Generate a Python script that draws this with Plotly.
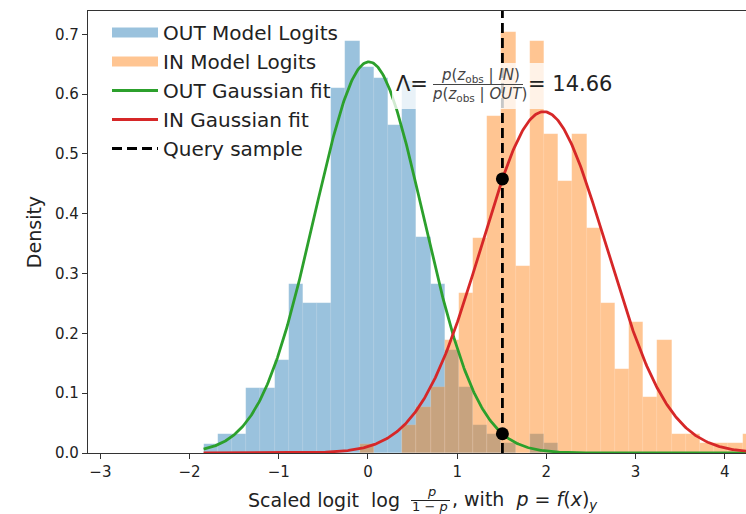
import numpy as np
import plotly.graph_objects as go

# ---------------- data ----------------
bin_left_edge = -1.843
bin_width = 0.159
out_density = [0.015, 0.031, 0.031, 0.109, 0.109, 0.156, 0.282, 0.251, 0.251, 0.611,
               0.689, 0.645, 0.627, 0.548, 0.622, 0.361, 0.282, 0.172, 0.110, 0.046,
               0.031, 0.016, 0.000, 0.031, 0.016, 0.000, 0.000, 0.000, 0.000, 0.000,
               0.000, 0.000, 0.000, 0.000, 0.000, 0.000, 0.000, 0.000, 0.000]
in_density = [0.000, 0.000, 0.000, 0.000, 0.000, 0.000, 0.000, 0.000, 0.000, 0.000,
              0.000, 0.015, 0.000, 0.000, 0.046, 0.077, 0.110, 0.189, 0.267, 0.360,
              0.563, 0.704, 0.312, 0.689, 0.533, 0.455, 0.533, 0.376, 0.251, 0.141,
              0.219, 0.094, 0.189, 0.031, 0.031, 0.016, 0.016, 0.016, 0.031]
out_fit_mean, out_fit_std = 0.01, 0.610
in_fit_mean, in_fit_std = 1.97, 0.699
query_x = 1.507
likelihood_ratio = 14.66
x_ticks = [-3, -2, -1, 0, 1, 2, 3, 4]
y_ticks = [0.0, 0.1, 0.2, 0.3, 0.4, 0.5, 0.6, 0.7]
x_range = [-3.139, 4.238]
y_range = [0.0, 0.739]

# ---------------- styling ----------------
FONT = "DejaVu Sans"
TXT = "#222222"
BLUE_FILL = "rgba(31,119,180,0.45)"
ORANGE_FILL = "rgba(255,127,14,0.45)"
GREEN = "#2ca02c"
RED = "#d62728"

W, H = 746, 514
ML, MR, MT, MB = 88, 0, 11, 61
PW, PH = W - ML - MR, H - MT - MB


def px_x(px):
    return (px - ML) / PW


def px_y(py):
    return (H - MB - py) / PH


def gauss(x, m, s):
    return np.exp(-0.5 * ((x - m) / s) ** 2) / (s * np.sqrt(2 * np.pi))


n_bins = len(out_density)
centers = [bin_left_edge + (i + 0.5) * bin_width for i in range(n_bins)]
x_fit = np.linspace(bin_left_edge, bin_left_edge + n_bins * bin_width, 600)

fig = go.Figure()


def add_hist(vals, fill):
    xs = [c for c, v in zip(centers, vals) if v > 0]
    ys = [v for v in vals if v > 0]
    fig.add_trace(go.Bar(x=xs, y=ys, width=bin_width, showlegend=False,
                         marker=dict(color=fill, line=dict(color="rgba(255,255,255,0.2)", width=0.5)),
                         hoverinfo="skip"))


add_hist(out_density, BLUE_FILL)
add_hist(in_density, ORANGE_FILL)

fig.add_trace(go.Scatter(x=x_fit, y=gauss(x_fit, out_fit_mean, out_fit_std), mode="lines",
                         line=dict(color=GREEN, width=2.8), showlegend=False))
fig.add_trace(go.Scatter(x=x_fit, y=gauss(x_fit, in_fit_mean, in_fit_std), mode="lines",
                         line=dict(color=RED, width=2.8), showlegend=False))
fig.add_trace(go.Scatter(x=[query_x, query_x], y=y_range, mode="lines",
                         line=dict(color="black", width=2.8, dash="10px,5px"), showlegend=False))
fig.add_trace(go.Scatter(x=[query_x, query_x],
                         y=[gauss(query_x, in_fit_mean, in_fit_std), gauss(query_x, out_fit_mean, out_fit_std)],
                         mode="markers", marker=dict(color="black", size=13), showlegend=False))

# legend entries
legend_items = [
    ("OUT Model Logits", dict(color=BLUE_FILL, width=10)),
    ("IN Model Logits", dict(color=ORANGE_FILL, width=10)),
    ("OUT Gaussian fit", dict(color=GREEN, width=2.8)),
    ("IN Gaussian fit", dict(color=RED, width=2.8)),
    ("Query sample", dict(color="black", width=2.8, dash="10px,5px")),
]
for i, (name, ln) in enumerate(legend_items):
    fig.add_trace(go.Scatter(x=[None], y=[None], mode="lines", name=name, line=ln,
                             legendgroup=f"g{i}", showlegend=True))

# white semi-transparent box behind the likelihood-ratio text
fig.add_shape(type="rect", xref="paper", yref="paper",
              x0=px_x(392), x1=px_x(615), y0=px_y(109), y1=px_y(63),
              fillcolor="rgba(255,255,255,0.78)", line=dict(width=0), layer="above")
fig.add_shape(type="line", xref="paper", yref="paper",
              x0=px_x(433), x1=px_x(523), y0=px_y(84.5), y1=px_y(84.5),
              line=dict(color="#444444", width=1), layer="above")

ann = []


def text(px, py, s, size, xanchor="center", color=TXT):
    ann.append(dict(x=px_x(px), y=px_y(py), xref="paper", yref="paper", text=s, showarrow=False,
                    xanchor=xanchor, yanchor="middle", font=dict(family=FONT, size=size, color=color)))


text(430, 84, "Λ=", 21, "right")
text(480, 75, "<i>p</i>(<i>z</i><sub>obs</sub> | <i>IN</i>)", 15, color="#444444")
text(479, 94, "<i>p</i>(<i>z</i><sub>obs</sub> | <i>OUT</i>)", 15, color="#444444")
text(526, 84, f"= {likelihood_ratio:.2f}", 21, "left")

# x-axis label with inline fraction
text(402, 500, "Scaled logit&nbsp; log", 19, "right")
text(431, 492, "<i>p</i>", 13)
text(430, 506.5, "1 − <i>p</i>", 13)
fig.add_shape(type="line", xref="paper", yref="paper",
              x0=px_x(411), x1=px_x(450), y0=px_y(500.5), y1=px_y(500.5),
              line=dict(color=TXT, width=1))
text(450, 500, ", with&nbsp; <i>p</i> = <i>f</i>(<i>x</i>)<sub><i>y</i></sub>", 19, "left")

fig.update_layout(
    width=W, height=H,
    margin=dict(l=ML, r=MR, t=MT, b=MB, pad=0),
    paper_bgcolor="white", plot_bgcolor="white",
    barmode="overlay", bargap=0,
    font=dict(family=FONT, color=TXT),
    annotations=ann,
    legend=dict(x=px_x(107), y=px_y(13), xanchor="left", yanchor="top",
                bgcolor="rgba(0,0,0,0)", font=dict(family=FONT, size=20, color=TXT),
                traceorder="grouped", tracegroupgap=0, itemwidth=46),
    xaxis=dict(range=x_range, tickvals=x_ticks, showgrid=False, zeroline=False,
               showline=True, linecolor="#333333", linewidth=1.2, mirror=True,
               ticks="outside", ticklen=5, tickwidth=1.2, tickcolor="#333333",
               tickfont=dict(family=FONT, size=15, color=TXT)),
    yaxis=dict(range=y_range, tickvals=y_ticks, tickformat=".1f", showgrid=False, zeroline=False,
               showline=True, linecolor="#333333", linewidth=1.2, mirror=False,
               ticks="outside", ticklen=5, tickwidth=1.2, tickcolor="#333333",
               tickfont=dict(family=FONT, size=15, color=TXT),
               title=dict(text="Density", font=dict(family=FONT, size=19, color=TXT), standoff=8)),
)

fig.write_html("out.html")
